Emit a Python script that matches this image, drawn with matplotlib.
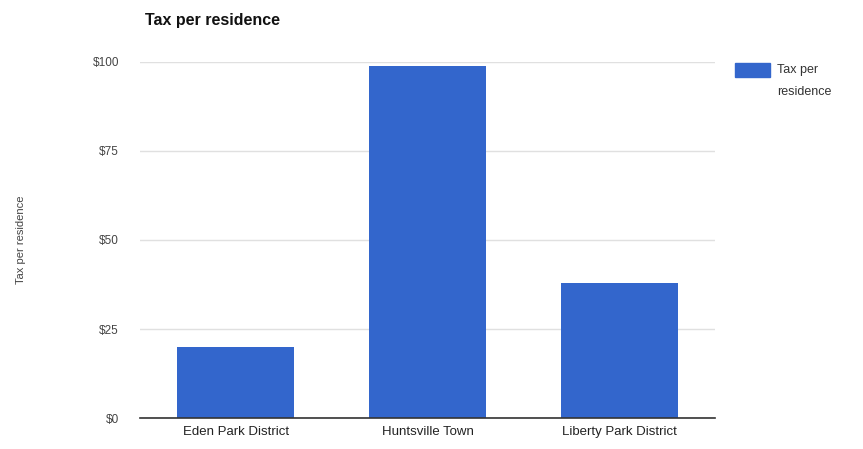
import matplotlib
matplotlib.use("Agg")
import matplotlib.pyplot as plt
from matplotlib.patches import Rectangle

categories = ["Eden Park District", "Huntsville Town", "Liberty Park District"]
tax = [20, 99, 38]
yticks = [0, 25, 50, 75, 100]
ytick_labels = ["$0", "$25", "$50", "$75", "$100"]
series_name = "Tax per residence"
bar_color = '#3366cc'

plt.rcParams['font.family'] = ['Liberation Sans', 'DejaVu Sans']

fig = plt.figure(figsize=(8.63, 4.49), dpi=100)
ax = fig.add_axes([0.162, 0.069, 0.667, 0.793])

ax.bar(range(len(categories)), tax, width=0.61, color=bar_color, zorder=2)

ax.set_xlim(-0.5, len(categories) - 0.5)
ax.set_ylim(0, 100)
ax.set_yticks(yticks)
ax.set_yticklabels(ytick_labels)
ax.set_xticks(range(len(categories)))
ax.set_xticklabels(categories)
ax.grid(axis='y', color='#e0e0e0', linewidth=1, zorder=0)
ax.tick_params(axis='y', length=0, pad=15, labelsize=8.5, labelcolor='#444444')
ax.tick_params(axis='x', length=0, pad=6, labelsize=9.5, labelcolor='#222222')
for side in ['top', 'right', 'left']:
    ax.spines[side].set_visible(False)
ax.spines['bottom'].set_color('#333333')
ax.spines['bottom'].set_linewidth(1.2)
ax.spines['bottom'].set_zorder(3)

# y axis title sits near the left edge
fig.text(0.024, 0.465, series_name, rotation=90, fontsize=8, color='#444444',
         ha='center', va='center')
fig.text(0.168, 0.955, series_name, fontsize=11.5, fontweight='bold',
         color='#111111', va='center', ha='left')

# legend drawn by hand so the swatch lines up with the first text line
fig.patches.append(Rectangle((0.852, 0.8285), 0.0406, 0.031, color=bar_color,
                             transform=fig.transFigure, figure=fig))
fig.text(0.900, 0.857, "Tax per\nresidence", fontsize=9, color='#333333',
         ha='left', va='top', linespacing=2.1)

fig.savefig('out.png', dpi=100)
